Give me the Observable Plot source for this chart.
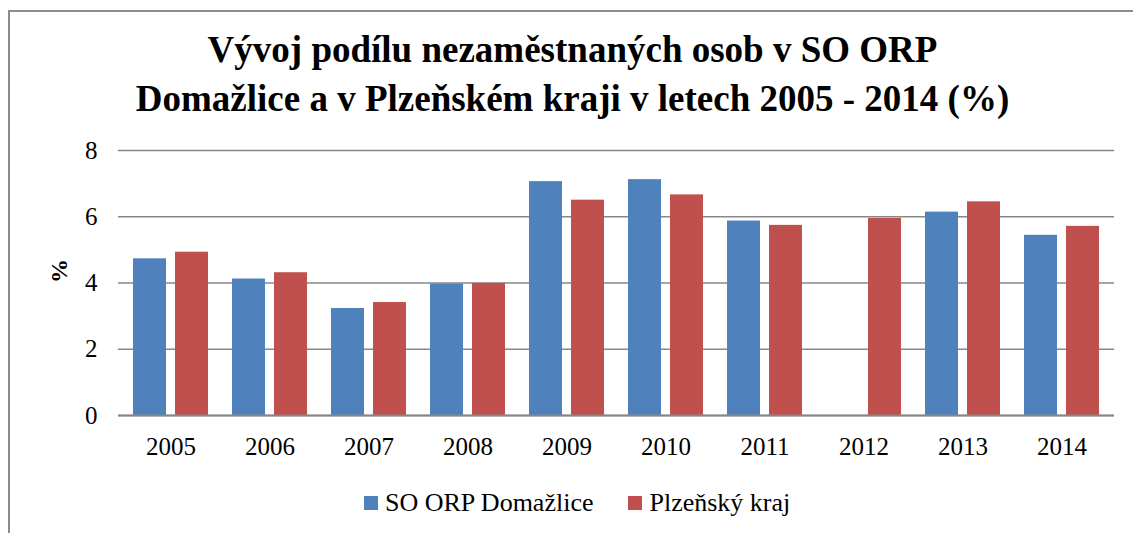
<!DOCTYPE html>
<html>
<head>
<meta charset="utf-8">
<script src="https://cdn.jsdelivr.net/npm/d3@7"></script>
<script src="https://cdn.jsdelivr.net/npm/@observablehq/plot@0.6"></script>
<style>
  html body #wrap, html body #wrap * { font-family: 'Liberation Serif', serif; }
</style>
</head>
<body style="margin:0;padding:0;background:#fff">
<div id="wrap" style="position:relative;width:1133px;height:533px;overflow:hidden">
  <div id="chart" style="position:absolute;left:0;top:0"></div>
  <div id="title" style="position:absolute;left:0;top:25px;width:1145px;text-align:center;font-weight:bold;font-size:37px;line-height:49px;color:#000">Vývoj podílu nezaměstnaných osob v SO ORP<br>Domažlice a v Plzeňském kraji v letech 2005 - 2014 (%)</div>
  <div id="legend" style="position:absolute;left:364px;top:488px;display:flex;align-items:center;font-size:26px;color:#000"></div>
  <div id="border" style="position:absolute;left:8px;top:10px;width:1300px;height:700px;border-left:2px solid #8c8c8c;border-top:2px solid #8c8c8c;pointer-events:none"></div>
</div>
<script>
const years = ["2005","2006","2007","2008","2009","2010","2011","2012","2013","2014"];
const domazlice = [4.73, 4.12, 3.23, 3.97, 7.06, 7.12, 5.87, null, 6.14, 5.44];
const plzensky = [4.93, 4.31, 3.41, 3.99, 6.50, 6.66, 5.74, 5.95, 6.45, 5.71];
const yTicks = [0, 2, 4, 6, 8];
const seriesNames = ["SO ORP Domažlice", "Plzeňský kraj"];
const seriesColors = ["#4F81BD", "#C0504D"];
const yLabel = "%";

const rows = years.map((y, i) => ({year: y, a: domazlice[i], b: plzensky[i]}));

const chart = Plot.plot({
  width: 1133,
  height: 480,
  marginTop: 150,
  marginBottom: 65,
  marginLeft: 118,
  marginRight: 19,
  style: {fontFamily: "'Liberation Serif', serif", fontSize: "25px", color: "#000", background: "transparent", overflow: "visible"},
  x: {type: "band", domain: years, paddingInner: 0.246, paddingOuter: 0.123, label: null},
  y: {domain: [0, 8], label: null},
  marks: [
    Plot.ruleY(yTicks, {stroke: "#878787", strokeWidth: 1.6}),
    Plot.barY(rows.filter(d => d.a != null), {x: "year", y: "a", fill: seriesColors[0], insetRight: 42}),
    Plot.barY(rows, {x: "year", y: "b", fill: seriesColors[1], insetLeft: 42}),
    Plot.ruleY([0], {stroke: "#878787", strokeWidth: 1.8}),
    Plot.axisX({tickSize: 0, tickPadding: 22, fontSize: 25, label: null}),
    Plot.axisY({ticks: yTicks, tickSize: 0, tickPadding: 21, fontSize: 25, label: null}),
    Plot.text([yLabel], {frameAnchor: "left", dx: -59, rotate: -90, fontWeight: "bold", fontSize: 24, fill: "#000"})
  ]
});
document.getElementById("chart").appendChild(chart);

const legend = document.getElementById("legend");
seriesNames.forEach((name, i) => {
  const item = document.createElement("div");
  item.style.display = "flex";
  item.style.alignItems = "center";
  if (i > 0) item.style.marginLeft = "35px";
  const sw = document.createElement("span");
  sw.style.cssText = "width:14px;height:14px;display:inline-block;margin-right:7px;background:" + seriesColors[i];
  const t = document.createElement("span");
  t.textContent = name;
  item.appendChild(sw);
  item.appendChild(t);
  legend.appendChild(item);
});
</script>
</body>
</html>
